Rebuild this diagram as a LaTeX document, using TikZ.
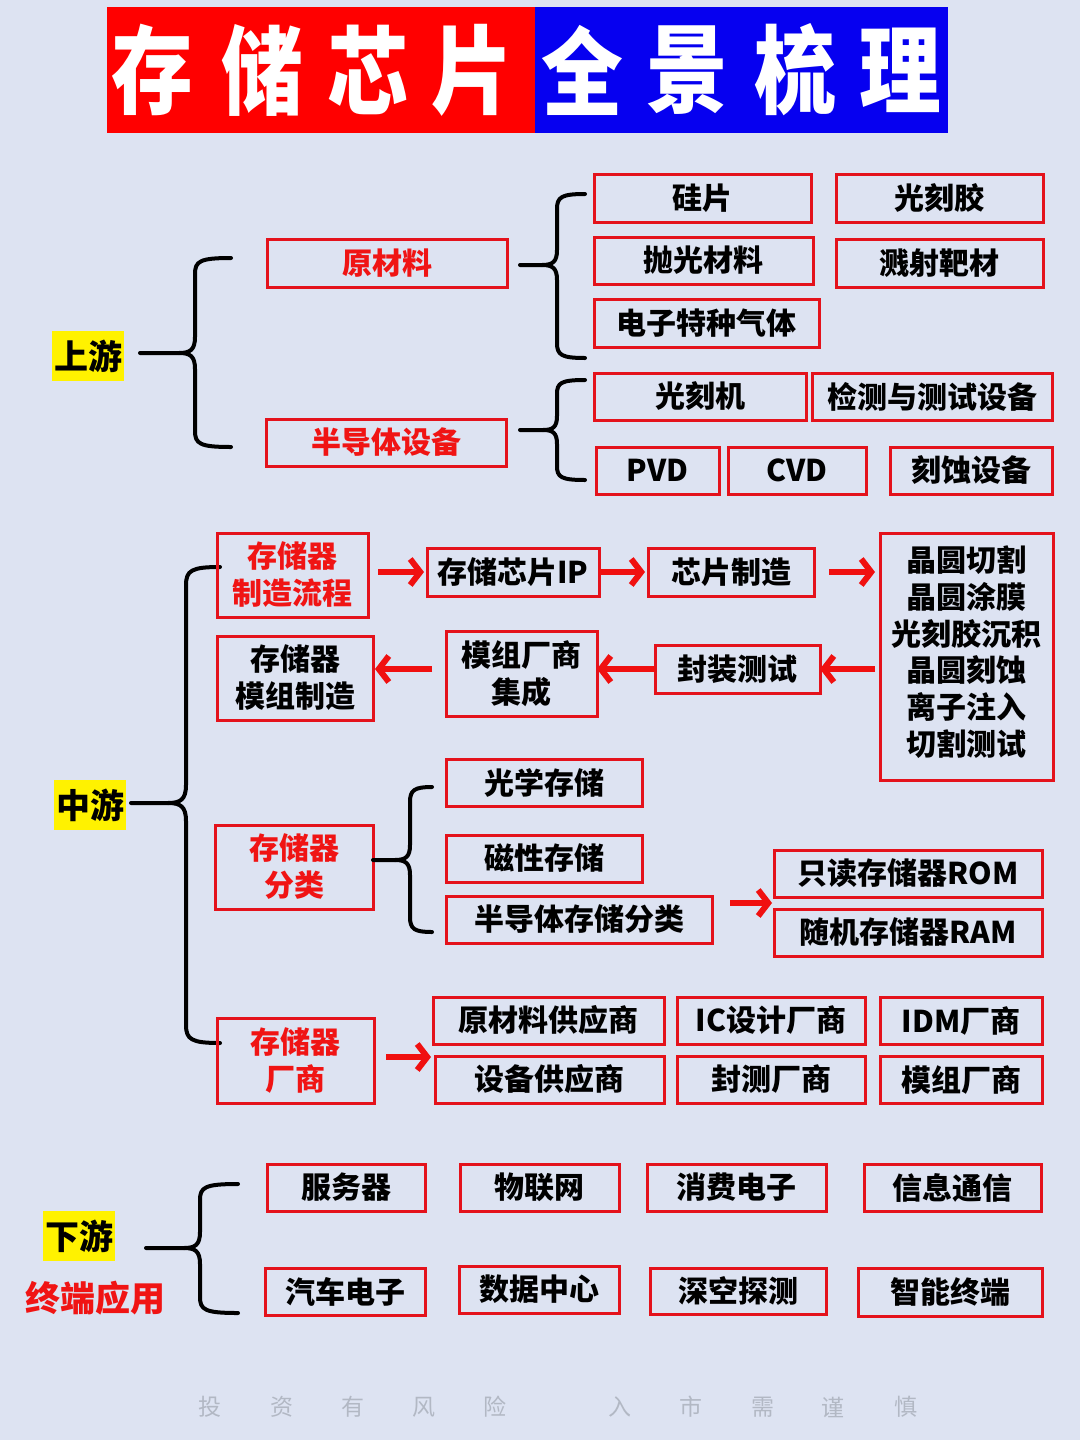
\documentclass[tikz,border=0pt]{standalone}
\usepackage{fontspec}
\setmainfont{Noto Sans CJK SC}
\usetikzlibrary{arrows.meta,calc}
\definecolor{bgc}{RGB}{221,227,242}
\definecolor{boxred}{RGB}{228,18,28}
\definecolor{txtred}{RGB}{240,20,20}
\definecolor{arrred}{RGB}{240,16,16}
\definecolor{ttlblue}{RGB}{6,0,240}
\definecolor{footgray}{RGB}{178,184,196}
\tikzset{
  box/.style={draw=boxred,line width=3pt,inner sep=0pt,outer sep=0pt,align=center,text=black,
    font=\bfseries\fontsize{30}{37}\selectfont},
  redtxt/.style={text=txtred},
  lbl/.style={fill=yellow,inner sep=0pt,text=black,font=\bfseries\fontsize{34}{40}\selectfont},
  bracestyle/.style={draw=black,line width=4pt,line cap=round,line join=round},
  rarrow/.style={draw=arrred,line width=6pt,-{Straight Barb[length=10pt,width=26pt]}},
  ttl/.style={text=white,inner sep=0pt,font=\bfseries\fontsize{86}{86}\selectfont},
  foot/.style={text=footgray,inner sep=0pt,font=\fontsize{23}{23}\selectfont}
}
% #1 options, #2 name, #3 x1, #4 y1, #5 x2, #6 y2, #7 text
\newcommand\bx[7][]{\node[box,#1,minimum width={(#5-#3)*1pt},minimum height={(#6-#4)*1pt}] (#2) at ({(#3+#5)/2},{(#4+#6)/2}) {#7};}
% #1 tick start x, #2 spine x, #3 end x, #4 top y, #5 mid y, #6 bottom y, #7 radius
\newcommand\mybrace[7]{%
  \draw[bracestyle] (#3,#4) .. controls (#2+0.3*#7,#4) and (#2,#4+0.2*#7) .. (#2,#4+#7) -- (#2,#5-#7) .. controls (#2,#5-0.2*#7) and (#2-0.3*#7,#5) .. (#2-#7,#5) -- (#1,#5);
  \draw[bracestyle] (#2-#7,#5) .. controls (#2-0.3*#7,#5) and (#2,#5+0.2*#7) .. (#2,#5+#7) -- (#2,#6-#7) .. controls (#2,#6-0.2*#7) and (#2+0.3*#7,#6) .. (#3,#6);}
\begin{document}
\begin{tikzpicture}[x=1pt,y=-1pt]
\fill[bgc] (0,0) rectangle (1080,1440);
% title
\fill[red] (107,7) rectangle (535,133);
\fill[ttlblue] (535,7) rectangle (948,133);
\node[ttl] (t1) at (152,70) {\scalebox{0.95}[1.12]{存}};
\node[ttl] (t2) at (262,70) {\scalebox{0.95}[1.12]{储}};
\node[ttl] (t3) at (368,70) {\scalebox{0.95}[1.12]{芯}};
\node[ttl] (t4) at (472,70) {\scalebox{0.95}[1.12]{片}};
\node[ttl] (t5) at (582,70) {\scalebox{0.95}[1.12]{全}};
\node[ttl] (t6) at (687,70) {\scalebox{0.95}[1.12]{景}};
\node[ttl] (t7) at (795,70) {\scalebox{0.95}[1.12]{梳}};
\node[ttl] (t8) at (900,70) {\scalebox{0.95}[1.12]{理}};

% ---------- upstream ----------
\node[lbl,minimum width=72pt,minimum height=50pt] (up) at (88,356) {上游};
\mybrace{140}{195}{231}{258}{353}{447}{16}
\bx[redtxt]{raw}{267}{239}{507}{287}{原材料}
\bx[redtxt]{equip}{266}{419}{506}{466}{半导体设备}
\mybrace{520}{557}{585}{194}{265}{358}{15}
\mybrace{520}{557}{585}{380}{430}{480}{14}
\bx{si}{594}{174}{811}{222}{硅片}
\bx{pr}{836}{174}{1043}{222}{光刻胶}
\bx{pol}{594}{237}{813}{284}{抛光材料}
\bx{spt}{836}{239}{1043}{287}{溅射靶材}
\bx{gas}{594}{299}{819}{347}{电子特种气体}
\bx{litho}{594}{373}{806}{420}{光刻机}
\bx{test}{812}{373}{1052}{420}{检测与测试设备}
\bx{pvd}{596}{447}{719}{494}{PVD}
\bx{cvd}{728}{447}{866}{494}{CVD}
\bx{etch}{890}{447}{1052}{494}{刻蚀设备}

% ---------- midstream ----------
\node[lbl,minimum width=72pt,minimum height=50pt] (mid) at (90,805) {中游};
\mybrace{131}{186}{220}{567}{803}{1043}{18}
\bx[redtxt]{flow}{217}{533}{368}{617}{存储器\\制造流程}
\bx{ip}{427}{548}{599}{596}{存储芯片IP}
\bx{chip}{648}{548}{814}{596}{芯片制造}
\node[box,minimum width=173pt,minimum height=247pt,font=\bfseries\fontsize{30}{36.8}\selectfont] (steps) at (966.5,656.5) {晶圆切割\\晶圆涂膜\\光刻胶沉积\\晶圆刻蚀\\离子注入\\切割测试\\[-25pt]};
\bx{pkg}{655}{645}{820}{693}{封装测试}
\bx{modint}{446}{631}{597}{716}{模组厂商\\集成}
\bx{modmfg}{217}{636}{373}{720}{存储器\\模组制造}
\draw[rarrow] ([xshift=10pt]flow.east |- ip.east) -- ([xshift=-3pt]ip.west);
\draw[rarrow] (ip.east) -- ([xshift=-3pt]chip.west);
\draw[rarrow] ([xshift=15pt]chip.east) -- ([xshift=-5pt]steps.west |- chip.east);
\draw[rarrow] ([xshift=-5pt]steps.west |- pkg.east) -- (pkg.east);
\draw[rarrow] (pkg.west) -- (modint.east |- pkg.west);
\draw[rarrow] ([xshift=-14pt]modint.west |- pkg.west) -- ([xshift=2pt]modmfg.east |- pkg.west);

\bx[redtxt]{cls}{215}{825}{373}{909}{存储器\\分类}
\mybrace{373}{410}{432}{787}{860}{932}{15}
\bx{opt}{446}{759}{642}{806}{光学存储}
\bx{mag}{446}{835}{642}{882}{磁性存储}
\bx{semi}{446}{896}{712}{943}{半导体存储分类}
\bx{rom}{774}{850}{1042}{897}{只读存储器ROM}
\bx{ram}{774}{909}{1042}{956}{随机存储器RAM}
\coordinate (rr) at ($(rom.south west)!0.5!(ram.north west)$);
\draw[rarrow] ([xshift=18pt]semi.east |- rr) -- ([xshift=-2pt]rr);

\bx[redtxt]{vend}{217}{1018}{374}{1103}{存储器\\厂商}
\bx{v1}{433}{997}{664}{1044}{原材料供应商}
\bx{v2}{677}{997}{865}{1044}{IC设计厂商}
\bx{v3}{880}{997}{1042}{1044}{IDM厂商}
\bx{v4}{435}{1056}{664}{1103}{设备供应商}
\bx{v5}{677}{1056}{865}{1103}{封测厂商}
\bx{v6}{880}{1056}{1042}{1103}{模组厂商}
\coordinate (vv) at ($(v1.south west)!0.5!(v4.north west)$);
\draw[rarrow] ([xshift=12pt]vend.east |- 0,1057) -- ([xshift=-3pt]vv |- 0,1057);

% ---------- downstream ----------
\node[lbl,minimum width=72pt,minimum height=50pt] (down) at (79,1236) {下游};
\node[text=txtred,inner sep=0pt,font=\bfseries\fontsize{35}{40}\selectfont] (app) at (95,1298) {终端应用};
\mybrace{146}{200}{238}{1184}{1248}{1313}{16}
\bx{d1}{267}{1164}{425}{1211}{服务器}
\bx{d2}{460}{1164}{619}{1211}{物联网}
\bx{d3}{647}{1164}{826}{1211}{消费电子}
\bx{d4}{864}{1164}{1041}{1211}{信息通信}
\bx{d5}{265}{1268}{425}{1315}{汽车电子}
\bx{d6}{459}{1266}{619}{1313}{数据中心}
\bx{d7}{650}{1268}{826}{1314}{深空探测}
\bx{d8}{858}{1268}{1042}{1316}{智能终端}

% footer
\node[foot] (f1) at (210,1407) {投};
\node[foot] (f2) at (282,1407) {资};
\node[foot] (f3) at (353,1407) {有};
\node[foot] (f4) at (424,1407) {风};
\node[foot] (f5) at (495,1407) {险};
\node[foot] (f6) at (620,1407) {入};
\node[foot] (f7) at (691,1407) {市};
\node[foot] (f8) at (763,1407) {需};
\node[foot] (f9) at (833,1407) {谨};
\node[foot] (f10) at (906,1407) {慎};
\end{tikzpicture}
\end{document}
